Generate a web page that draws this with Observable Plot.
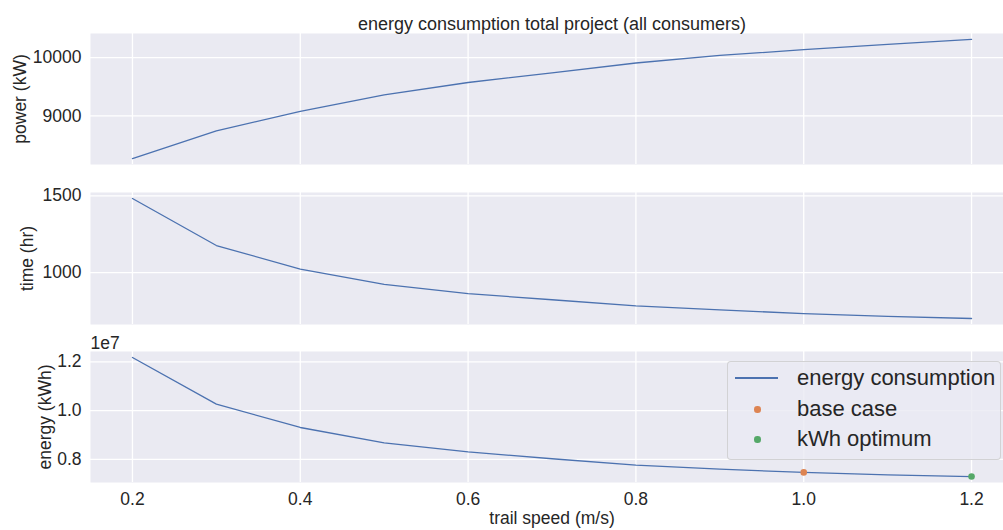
<!DOCTYPE html>
<html>
<head>
<meta charset="utf-8">
<script src="https://cdn.jsdelivr.net/npm/d3@7"></script>
<script src="https://cdn.jsdelivr.net/npm/@observablehq/plot@0.6"></script>
<style>
  html, body { margin: 0; padding: 0; background: #ffffff; overflow: hidden; }
  #chart { position: relative; width: 1003px; height: 530px; overflow: hidden;
           font-family: "Liberation Sans", Arial, sans-serif; color: #262626; }
  #chart svg { display: block; max-width: none; }
  #legend { position: absolute; left: 727px; top: 361px; width: 272px; height: 97px;
            background: rgba(234,234,242,0.8); border: 1px solid rgba(204,204,204,0.8);
            border-radius: 4px; font-size: 22px; }
  #legend .row { position: absolute; left: 0; width: 272px; height: 30px; line-height: 30px; }
  #legend .txt { position: absolute; left: 69px; top: 0; white-space: nowrap; }
  #legend .ln { position: absolute; left: 7px; width: 43px; top: 14px; height: 1.4px; }
  #legend .dt { position: absolute; left: 26px; top: 12px; width: 6.5px; height: 6.5px; border-radius: 50%; }
</style>
</head>
<body>
<div id="chart"></div>
<script>
// ---- data ----
const speed  = [0.2, 0.3, 0.4, 0.5, 0.6, 0.7, 0.8, 0.9, 1.0, 1.1, 1.2];
const power  = [8270, 8744, 9080, 9363, 9574, 9738, 9908, 10039, 10136, 10227, 10312];
const time   = [1483, 1177, 1024, 924, 864, 824, 784, 758, 734, 716, 702];
const energy = [12180000, 10270000, 9310000, 8680000, 8310000, 8030000, 7770000, 7600000, 7470000, 7370000, 7300000];

const baseCaseSpeed = [1.0];
const optimumSpeed  = [1.2];

const xTicks      = [0.2, 0.4, 0.6, 0.8, 1.0, 1.2];
const powerTicks  = [9000, 10000];
const timeTicks   = [1000, 1500];
const energyTicks = [8000000, 10000000, 12000000];

const titleText   = "energy consumption total project (all consumers)";
const powerLabel  = "power (kW)";
const timeLabel   = "time (hr)";
const energyLabel = "energy (kWh)";
const xLabel      = "trail speed (m/s)";
const offsetText  = "1e7";
const legendLabels = ["energy consumption", "base case", "kWh optimum"];

// ---- styling ----
const BG = "#EAEAF2", BLUE = "#4C72B0", ORANGE = "#DD8452", GREEN = "#55A868", INK = "#262626";
const FONT = '"Liberation Sans", Arial, sans-serif';

const rows = speed.map((s, i) => ({speed: s, power: power[i], time: time[i], energy: energy[i]}));
function pad(ext) { const d = (ext[1] - ext[0]) * 0.05; return [ext[0] - d, ext[1] + d]; }
const xDomain = pad(d3.extent(speed));

function panel({key, yTicks, tickFormat, label, labelOffset, height, marginTop, marginBottom, extra = [], showX = false}) {
  const marks = [
    Plot.frame({fill: BG, stroke: "none"}),
    Plot.gridX(xTicks, {stroke: "white", strokeOpacity: 1, strokeWidth: 1.3}),
    Plot.gridY(yTicks, {stroke: "white", strokeOpacity: 1, strokeWidth: 1.3}),
    Plot.lineY(rows, {x: "speed", y: key, stroke: BLUE, strokeWidth: 1.3}),
    ...extra,
    Plot.axisY(yTicks, {tickSize: 0, tickPadding: 9, tickFormat, label, labelAnchor: "center",
                        labelArrow: "none", labelOffset, fontSize: 17.5, fill: INK})
  ];
  if (showX) {
    marks.push(Plot.axisX(xTicks, {tickSize: 0, tickPadding: 10, tickFormat: d3.format(".1f"),
                                   label: xLabel, labelAnchor: "center", labelArrow: "none",
                                   labelOffset: 41, fontSize: 17.5, fill: INK}));
  }
  // the axes extend slightly past the right edge of the picture (cropped), as in the reference
  return Plot.plot({
    width: 1013, height, marginLeft: 90, marginRight: 0, marginTop, marginBottom,
    style: {fontFamily: FONT, fontSize: "17.5px", color: INK, background: "transparent", overflow: "visible", maxWidth: "none"},
    x: {domain: xDomain, axis: null},
    y: {domain: pad(d3.extent(rows, d => d[key])), axis: null},
    marks
  });
}

const chart = document.getElementById("chart");

chart.appendChild(panel({
  key: "power", yTicks: powerTicks, tickFormat: d3.format("d"), label: powerLabel, labelOffset: 77,
  height: 178, marginTop: 33, marginBottom: 14,
  extra: [Plot.text([titleText], {frameAnchor: "top", lineAnchor: "bottom", dy: -4, fontSize: 18, fill: INK})]
}));

chart.appendChild(panel({
  key: "time", yTicks: timeTicks, tickFormat: d3.format("d"), label: timeLabel, labelOffset: 69.5,
  height: 152, marginTop: 14, marginBottom: 6
}));

chart.appendChild(panel({
  key: "energy", yTicks: energyTicks, tickFormat: d => (d / 1e7).toFixed(1), label: energyLabel, labelOffset: 52,
  height: 200, marginTop: 21, marginBottom: 48, showX: true,
  extra: [
    Plot.dot(rows.filter(d => baseCaseSpeed.includes(d.speed)), {x: "speed", y: "energy", r: 3.3, fill: ORANGE}),
    Plot.dot(rows.filter(d => optimumSpeed.includes(d.speed)), {x: "speed", y: "energy", r: 3.3, fill: GREEN}),
    Plot.text([offsetText], {frameAnchor: "top-left", textAnchor: "start", lineAnchor: "bottom", dy: -3, fontSize: 17.5, fill: INK})
  ]
}));

// ---- legend ----
const legend = document.createElement("div");
legend.id = "legend";
const swatches = [
  {type: "ln", color: BLUE},
  {type: "dt", color: ORANGE},
  {type: "dt", color: GREEN}
];
const rowTops = [1.3, 32.3, 62.3];
legendLabels.forEach((lab, i) => {
  const row = document.createElement("div");
  row.className = "row";
  row.style.top = rowTops[i] + "px";
  const sw = document.createElement("div");
  sw.className = swatches[i].type;
  sw.style.background = swatches[i].color;
  const tx = document.createElement("div");
  tx.className = "txt";
  tx.textContent = lab;
  row.appendChild(sw);
  row.appendChild(tx);
  legend.appendChild(row);
});
chart.appendChild(legend);
</script>
</body>
</html>
